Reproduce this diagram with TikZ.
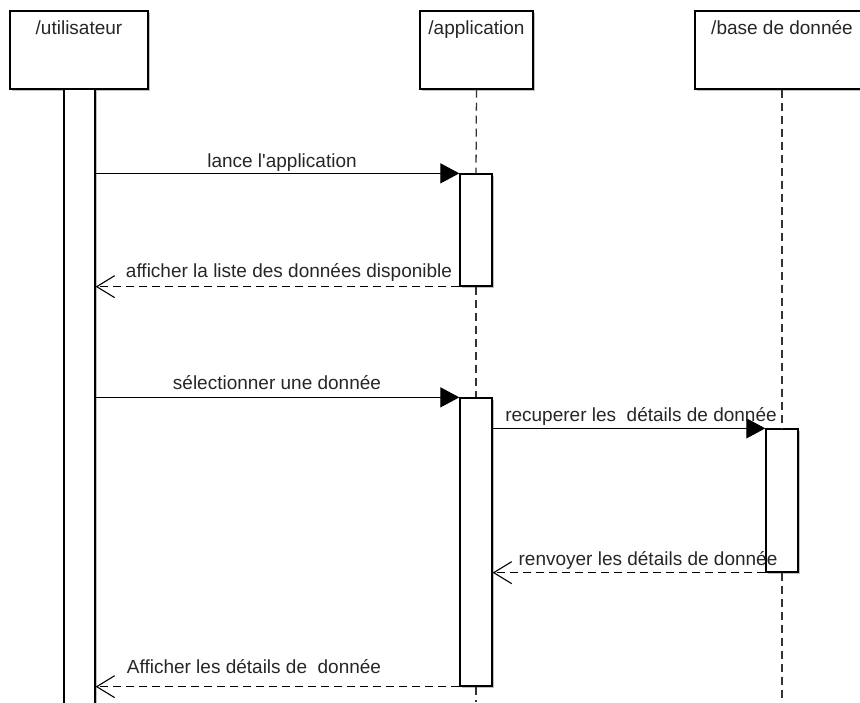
\documentclass[tikz,border=0pt]{standalone}
\usepackage{fontspec}
\setmainfont{Liberation Sans}
\usetikzlibrary{arrows.meta,shadows}
\begin{document}
\begin{tikzpicture}[x=1pt,y=-1pt,
  every node/.style={font=\fontsize{19}{22}\selectfont, text=black!85},
  shade/.style={drop shadow={shadow xshift=1.6pt,shadow yshift=-1.6pt,opacity=0.25,fill=black}},
  headbox/.style={draw, line width=1.3pt, fill=white, shade, minimum height=78pt, inner sep=0pt},
  actbar/.style={draw, line width=1.3pt, fill=white, shade, minimum width=32pt, inner sep=0pt},
  lifeline/.style={line width=1.3pt, dash pattern=on 8pt off 5pt, black!80},
  msg/.style={line width=1.2pt, -{Triangle[length=19pt,width=20pt]}},
  ret/.style={line width=1.2pt, dash pattern=on 8pt off 5pt, -{Straight Barb[length=18pt,width=22pt,line width=1.1pt]}},
  lbl/.style={inner sep=0pt, anchor=base}
]
\useasboundingbox (0,0) rectangle (860,702);
\begin{scope}
\clip (0,0) rectangle (860,702);

% participant boxes
\node[headbox, minimum width=138pt] (user) at (79,50) {};
\node[headbox, minimum width=113pt] (app) at (476.5,50) {};
\node[headbox, minimum width=174pt] (db) at (782,50) {};
\node[lbl] (tuser) at (79,34) {/utilisateur};
\node[lbl] (tapp) at (476.5,34) {/application};
\node[lbl] (tdb) at (782,34) {/base de donnée};

% activation bars
\node[actbar, minimum width=31pt, minimum height=630pt] (ubar) at (79.5,404) {};
\node[actbar, minimum height=112pt] (a1) at (476,230) {};
\node[actbar, minimum height=288pt] (a2) at (476,542) {};
\node[actbar, minimum height=143pt] (d1) at (782,500.5) {};
\coordinate (append) at (476,702);
\coordinate (dbend) at (782,702);

% lifelines
\draw[lifeline] (app.south) -- (a1.north);
\draw[lifeline] (a1.south) -- (a2.north);
\draw[lifeline] (a2.south) -- (append);
\draw[lifeline] (db.south) -- (d1.north);
\draw[lifeline] (d1.south) -- (dbend);

% messages
\draw[msg] (ubar.east |- a1.north) -- (a1.north west);
\node[lbl] (m1) at (282,167) {lance l\textquotesingle application};

\draw[ret] (a1.south west) -- (ubar.east |- a1.south);
\node[lbl] (m2) at (289,277) {afficher la liste des données disponible};

\draw[msg] (ubar.east |- a2.north) -- (a2.north west);
\node[lbl] (m3) at (277,389) {sélectionner une donnée};

\draw[msg] (a2.east |- d1.north) -- (d1.north west);
\node[lbl] (m4) at (641,421) {recuperer les \ détails de donnée};

\draw[ret] (d1.south west) -- (a2.east |- d1.south);
\node[lbl] (m5) at (648,565) {renvoyer les détails de donnée};

\draw[ret] (a2.south west) -- (ubar.east |- a2.south);
\node[lbl] (m6) at (254,673) {Afficher les détails de \ donnée};
\end{scope}
\end{tikzpicture}
\end{document}
